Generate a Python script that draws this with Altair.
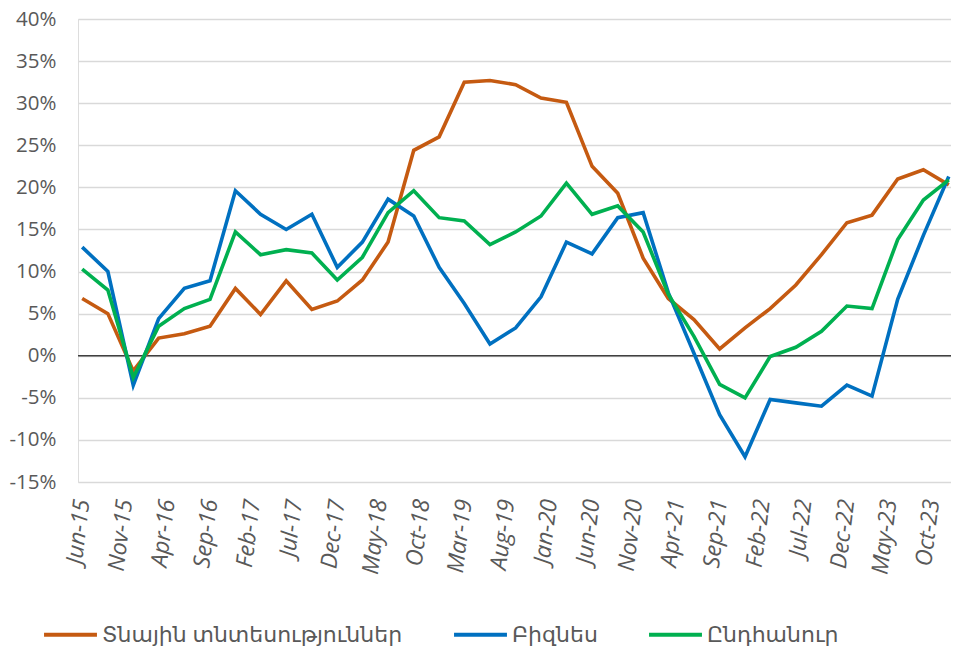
import altair as alt
import pandas as pd

dates = [
    "2015-06-01", "2015-09-01", "2015-12-01", "2016-03-01", "2016-06-01", "2016-09-01", "2016-12-01",
    "2017-03-01", "2017-06-01", "2017-09-01", "2017-12-01", "2018-03-01", "2018-06-01", "2018-09-01",
    "2018-12-01", "2019-03-01", "2019-06-01", "2019-09-01", "2019-12-01", "2020-03-01", "2020-06-01",
    "2020-09-01", "2020-12-01", "2021-03-01", "2021-06-01", "2021-09-01", "2021-12-01", "2022-03-01",
    "2022-06-01", "2022-09-01", "2022-12-01", "2023-03-01", "2023-06-01", "2023-09-01", "2023-12-01",
]
households = [6.8, 5.0, -1.8, 2.1, 2.6, 3.5, 8.0, 4.9, 8.9, 5.5, 6.5, 9.0, 13.5, 24.4, 26.0, 32.5, 32.7,
              32.2, 30.6, 30.1, 22.5, 19.3, 11.6, 6.8, 4.3, 0.8, 3.3, 5.6, 8.4, 12.0, 15.8, 16.7, 21.0,
              22.1, 20.3]
business = [12.9, 10.0, -3.5, 4.4, 8.0, 8.9, 19.6, 16.8, 15.0, 16.8, 10.5, 13.5, 18.6, 16.6, 10.5, 6.2,
            1.4, 3.3, 7.0, 13.5, 12.1, 16.4, 17.0, 7.5, 0.3, -7.0, -12.0, -5.2, -5.6, -6.0, -3.5, -4.8,
            6.7, 14.3, 21.3]
total = [10.3, 7.8, -2.6, 3.5, 5.6, 6.7, 14.7, 12.0, 12.6, 12.2, 9.0, 11.7, 17.0, 19.6, 16.4, 16.0,
         13.2, 14.7, 16.6, 20.5, 16.8, 17.8, 14.7, 7.3, 2.3, -3.4, -5.0, -0.1, 1.0, 2.9, 5.9, 5.6, 13.8,
         18.5, 20.9]

series_names = ["Տնային տնտեսություններ", "Բիզնես", "Ընդհանուր"]
series_colors = ["#C55A11", "#0070C0", "#00B050"]

tick_dates = [
    "2015-06-01", "2015-11-01", "2016-04-01", "2016-09-01", "2017-02-01", "2017-07-01", "2017-12-01",
    "2018-05-01", "2018-10-01", "2019-03-01", "2019-08-01", "2020-01-01", "2020-06-01", "2020-11-01",
    "2021-04-01", "2021-09-01", "2022-02-01", "2022-07-01", "2022-12-01", "2023-05-01", "2023-10-01",
]
y_ticks = [-15, -10, -5, 0, 5, 10, 15, 20, 25, 30, 35, 40]
x_domain = ["2015-05-17", "2023-12-09"]


def ms(d):
    return int(pd.Timestamp(d, tz="UTC").value // 10**6)


rows = []
for name, vals in zip(series_names, [households, business, total]):
    for d, v in zip(dates, vals):
        rows.append({"date": d, "value": v, "series": name})
df = pd.DataFrame(rows)

FONT = "Open Sans, DejaVu Sans, sans-serif"
GREY = "#595959"

x = alt.X(
    "date:T",
    scale=alt.Scale(type="utc", domain=[ms(d) for d in x_domain]),
    axis=alt.Axis(
        values=[ms(d) for d in tick_dates],
        format="%b-%y",
        labelAngle=-83,
        labelFontSize=23,
        labelFontStyle="italic",
        labelColor=GREY,
        labelFont=FONT,
        labelPadding=17,
        domain=False,
        ticks=False,
        grid=False,
        title=None,
        labelOverlap=False,
    ),
)
y = alt.Y(
    "value:Q",
    scale=alt.Scale(domain=[-15, 40], nice=False, zero=False),
    axis=alt.Axis(
        values=y_ticks,
        labelExpr="datum.value + '%'",
        labelFontSize=20.5,
        labelColor=GREY,
        labelFont=FONT,
        labelPadding=22,
        domain=False,
        ticks=False,
        grid=True,
        gridColor="#D9D9D9",
        gridWidth=1.3,
        title=None,
    ),
)

zero_rule = alt.Chart(pd.DataFrame({"z": [0]})).mark_rule(color="#404040", strokeWidth=1.6).encode(
    y=alt.Y("z:Q", scale=alt.Scale(domain=[-15, 40], nice=False, zero=False))
)

lines = alt.Chart(df).mark_line(strokeWidth=3.6).encode(
    x=x,
    y=y,
    color=alt.Color(
        "series:N",
        scale=alt.Scale(domain=series_names, range=series_colors),
        legend=alt.Legend(
            title=None,
            orient="none",
            legendX=-36,
            legendY=587,
            direction="horizontal",
            symbolType="stroke",
            symbolSize=2800,
            symbolStrokeWidth=4,
            labelFontSize=22,
            labelColor=GREY,
            labelFont=FONT,
            labelLimit=0,
            columnPadding=43,
            labelOffset=3,
        ),
    ),
    detail="series:N",
)

chart = (
    alt.layer(zero_rule, lines)
    .properties(
        width=873,
        height=463,
        padding={"left": 70, "top": 11, "right": 0, "bottom": 166},
        autosize=alt.AutoSizeParams(type="none"),
    )
    .configure_view(stroke=None)
    .configure(background="white")
)

chart.save("out.html", embed_options={"renderer": "svg", "actions": False})
